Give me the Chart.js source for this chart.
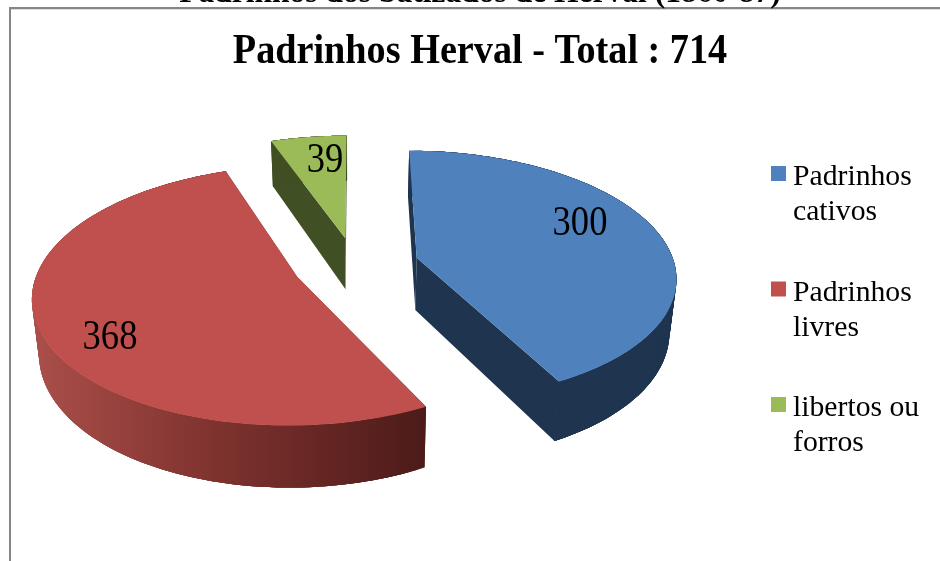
<!DOCTYPE html>
<html>
<head>
<meta charset="utf-8">
<style>
  html, body { margin: 0; padding: 0; background: #fff; overflow: hidden; }
  #wrap { position: relative; width: 940px; height: 561px; }
</style>
</head>
<body>
<div id="wrap"><canvas id="chart" width="940" height="561"></canvas></div>
<script src="https://cdn.jsdelivr.net/npm/chart.js@4/dist/chart.umd.js"></script>
<script>
const categories = [['Padrinhos', 'cativos'], ['Padrinhos', 'livres'], ['libertos ou', 'forros']];
const values = [300, 368, 39];
const chartTitle = 'Padrinhos Herval - Total : 714';
const pageHeading = 'Padrinhos dos batizados de Herval (1860-87)';

const topColors = ['#4f81bd', '#c0504d', '#9bbb59'];
const sideColors = ['#1f344f', null, '#414f24'];
const explode = [64, 62, 58];

// Where Excel placed the value labels (centre x, baseline y).
const valueLabelAt = [[580, 235], [110, 349], [325, 172]];

// Pie plane seen in perspective. Unit disc coordinates go through project().
const view = { x0: 355, y0: 265, fx: 258, fy: 124, persp: 0.14, depth: 52.5, shrink: 0.978 };

function project(u, v) {
  const w = 1 - view.persp * v;
  return { x: view.x0 + view.fx * u / w, y: view.y0 + view.fy * v / w, w };
}

function extrude(p) {
  return { x: view.x0 + (p.x - view.x0) * view.shrink, y: p.y + view.depth / p.w };
}

// Outline of one slice on the plane, apex first, then along the rim.
function sliceOutline(arc, offset) {
  const mid = (arc.startAngle + arc.endAngle) / 2;
  const d = offset / view.fx;
  const ox = Math.cos(mid) * d;
  const oy = Math.sin(mid) * d;
  const pts = [project(ox, oy)];
  const steps = 120;
  for (let i = 0; i <= steps; i++) {
    const a = arc.startAngle + (arc.endAngle - arc.startAngle) * i / steps;
    pts.push(project(ox + Math.cos(a), oy + Math.sin(a)));
  }
  return pts;
}

function fillPath(ctx, pts) {
  ctx.beginPath();
  pts.forEach((p, i) => (i ? ctx.lineTo(p.x, p.y) : ctx.moveTo(p.x, p.y)));
  ctx.closePath();
  ctx.fill();
}

function drawSlice(ctx, arc, index) {
  const top = sliceOutline(arc, explode[index]);
  const bottom = top.map(extrude);
  const last = top.length - 1;

  let side = sideColors[index];
  if (!side) {
    // The red rim darkens from left to right.
    const xs = top.map(p => p.x);
    side = ctx.createLinearGradient(Math.min(...xs), 0, Math.max(...xs), 0);
    side.addColorStop(0, '#ab4f4b');
    side.addColorStop(0.45, '#80332f');
    side.addColorStop(1, '#4c1b19');
  }
  ctx.fillStyle = side;
  // the two cut faces
  fillPath(ctx, [top[0], top[1], bottom[1], bottom[0]]);
  fillPath(ctx, [top[0], top[last], bottom[last], bottom[0]]);
  // rim in short overlapping pieces, so it neither cancels out at the turn nor shows seams
  for (let i = 1; i < last; i++) {
    const end = Math.min(i + 4, last) + 1;
    fillPath(ctx, top.slice(i, end).concat(bottom.slice(i, end).reverse()));
  }
  // hide the hairline where the cut face meets the rim
  ctx.strokeStyle = side;
  ctx.lineWidth = 1;
  ctx.beginPath();
  ctx.moveTo(top[last].x, top[last].y);
  ctx.lineTo(bottom[last].x, bottom[last].y);
  ctx.stroke();

  ctx.fillStyle = topColors[index];
  fillPath(ctx, top);
}

// Text in the original is squeezed horizontally, so scale it around its anchor.
function squeezedText(ctx, text, x, y, font, scaleX, align) {
  ctx.save();
  ctx.translate(x, y);
  ctx.scale(scaleX, 1);
  ctx.font = font;
  ctx.fillStyle = '#000';
  ctx.textAlign = align;
  ctx.textBaseline = 'alphabetic';
  ctx.fillText(text, 0, 0);
  ctx.restore();
}

const pie3d = {
  id: 'pie3d',
  beforeDatasetsDraw(chart) {
    const ctx = chart.ctx;
    const arcs = chart.getDatasetMeta(0).data;
    ctx.save();

    // frame of the pasted chart, open at the right and bottom
    ctx.fillStyle = '#868686';
    ctx.fillRect(9, 7, 931, 2);
    ctx.fillRect(9, 7, 2, 554);
    ctx.fillStyle = '#dcdcdc';
    ctx.fillRect(11, 9, 929, 1);

    squeezedText(ctx, pageHeading, 480, 2, 'bold 32px "Liberation Serif"', 0.985, 'center');
    squeezedText(ctx, chartTitle, 480, 63, 'bold 42px "Liberation Serif"', 0.91, 'center');

    // back to front: green, blue, red
    [2, 0, 1].forEach(i => drawSlice(ctx, arcs[i], i));

    values.forEach((v, i) => {
      squeezedText(ctx, String(v), valueLabelAt[i][0], valueLabelAt[i][1], '42px "Liberation Serif"', 0.87, 'center');
    });

    // legend
    categories.forEach((lines, i) => {
      const y = 166 + i * 115.5;
      ctx.fillStyle = topColors[i];
      ctx.fillRect(771, y, 15, 15);
      lines.forEach((line, n) => {
        squeezedText(ctx, line, 793, y + 19 + n * 35, '29.7px "Liberation Serif"', 1, 'left');
      });
    });

    ctx.restore();
    return false;
  },
};

new Chart(document.getElementById('chart'), {
  type: 'pie',
  data: {
    labels: categories,
    datasets: [{
      data: values,
      backgroundColor: topColors,
      offset: explode,
      borderWidth: 0,
    }],
  },
  options: {
    responsive: false,
    animation: false,
    rotation: 0,
    plugins: {
      legend: { display: false },
      title: { display: false },
      tooltip: { enabled: false },
    },
  },
  plugins: [pie3d],
});
</script>
</body>
</html>
